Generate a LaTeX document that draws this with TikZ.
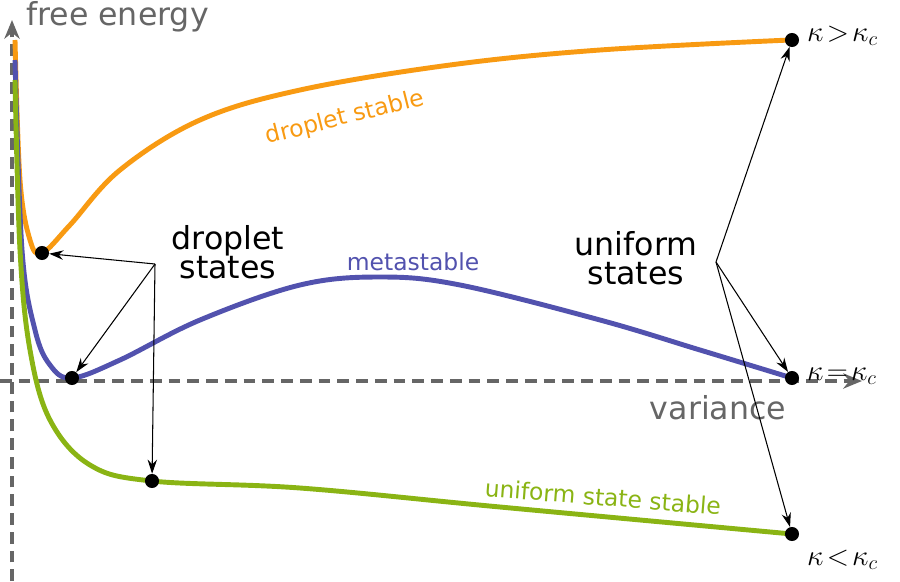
\documentclass[tikz,border=0pt]{standalone}
\usepackage{fontspec}
\setmainfont{DejaVu Sans}
\usetikzlibrary{arrows.meta}
\definecolor{cor}{HTML}{F89A12}
\definecolor{cbl}{HTML}{5252AE}
\definecolor{cgr}{HTML}{8AB414}
\definecolor{cax}{HTML}{666666}
\begin{document}
\begin{tikzpicture}[x=0.03cm,y=-0.03cm,
  curve/.style={line width=4.2pt},
  dot/.style={circle,fill=black,inner sep=0pt,minimum size=12pt},
  big/.style={font=\fontsize{27}{29}\selectfont},
  small/.style={font=\fontsize{20}{22}\selectfont},
  ax/.style={cax,line width=2.8pt,dash pattern=on 10pt off 6pt,-{Stealth[length=16pt,width=13pt]}},
  arr/.style={-{Stealth[length=12pt,width=8pt]},line width=0.9pt}]
\useasboundingbox (0,0) rectangle (900,581);
\draw[ax] (12,581) -- (12,20);
\draw[ax] (0,381) -- (862,381);
\node[big,cax,anchor=west] (fe) at (22,17) {free energy};
\node[big,cax] (var) at (718,408) {variance};
\draw[curve,cor] plot[smooth,tension=0.6] coordinates {(15,40) (20,180) (30,240) (42,253) (70,225) (120,170) (200,120) (300,90) (450,65) (600,50) (790,40)};
\draw[curve,cbl] plot[smooth,tension=0.6] coordinates {(15,60) (22,250) (35,330) (50,365) (72,378) (120,360) (200,320) (300,285) (380,277) (460,285) (600,320) (700,350) (792,378)};
\draw[curve,cgr] plot[smooth,tension=0.6] coordinates {(15,80) (20,250) (30,350) (50,420) (90,465) (152,481) (300,488) (500,507) (792,534)};
\node[dot] (d1) at (42,253) {};
\node[dot] (d2) at (72,378) {};
\node[dot] (d3) at (152,481) {};
\node[dot] (u1) at (792,40) {};
\node[dot] (u2) at (792,378) {};
\node[dot] (u3) at (792,534) {};
\node[big,align=center,inner sep=1pt] (ds) at (228,252) {droplet\\[-4pt]states};
\node[big,align=center,inner sep=1pt] (us) at (636,258) {uniform\\[-4pt]states};
\coordinate (dsp) at (155,264);
\coordinate (usp) at (716,262);
\draw[arr] (dsp) -- (d1);
\draw[arr] (dsp) -- (d2);
\draw[arr] (dsp) -- (d3);
\draw[arr] (usp) -- (u1);
\draw[arr] (usp) -- (u2);
\draw[arr] (usp) -- (u3);
\node[big,anchor=west] (k1) at (803,36) {$\kappa\!>\!\kappa_c$};
\node[big,anchor=west] (k2) at (803,376) {$\kappa\!=\!\kappa_c$};
\node[big,anchor=west] (k3) at (803,560) {$\kappa\!<\!\kappa_c$};
\node[small,cor,rotate=14] (l1) at (345,118) {droplet stable};
\node[small,cbl] (l2) at (413,262) {metastable};
\node[small,cgr,rotate=-4.5] (l3) at (603,497) {uniform state stable};
\end{tikzpicture}
\end{document}
